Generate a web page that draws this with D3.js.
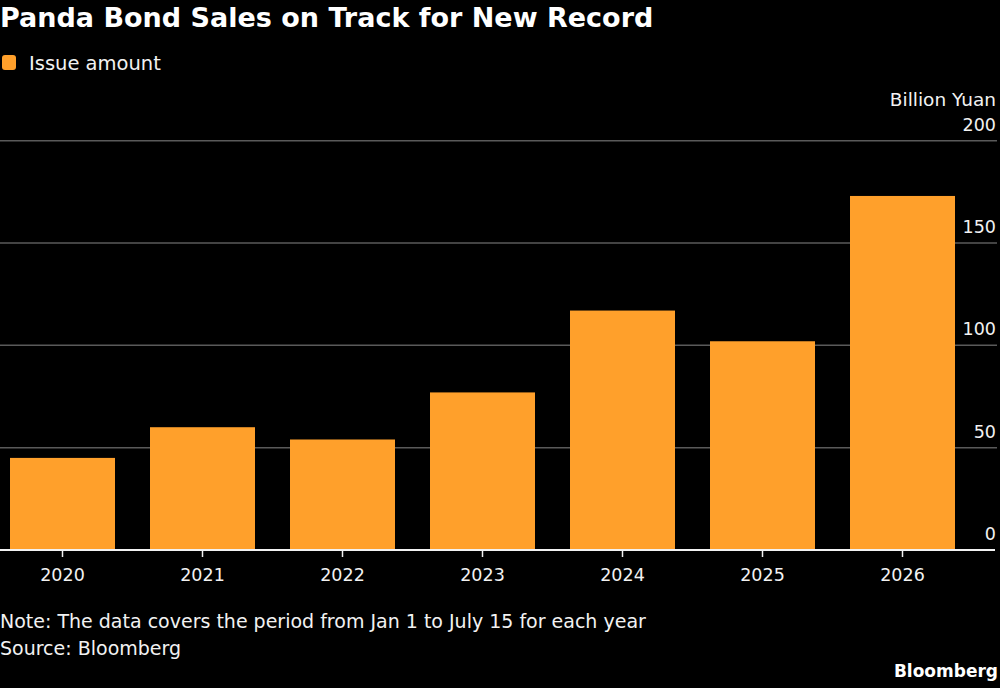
<!DOCTYPE html>
<html>
<head>
<meta charset="utf-8">
<script src="https://cdn.jsdelivr.net/npm/d3@7"></script>
<style>
  html, body { margin: 0; padding: 0; background: #000; }
  svg { display: block; }
  text { font-family: "DejaVu Sans", sans-serif; fill: #f2f2f2; }
</style>
</head>
<body>
<svg id="chart" width="1000" height="688"></svg>
<script>
"use strict";

// --- data ---
const years = ["2020", "2021", "2022", "2023", "2024", "2025", "2026"];
const issueAmount = [45, 60, 54, 77, 117, 102, 173];
const yTicks = [0, 50, 100, 150, 200];

const W = 1000, H = 688;
const L = { top: 140.7, bottom: 550, gridRight: 997, labelRight: 996 };
const BAR = "#ffa02b";
const NUM_SIZE = "17.5px";

const svg = d3.select("#chart");
svg.append("rect").attr("width", W).attr("height", H).attr("fill", "#000");

const x = d3.scaleBand().domain(years).range([0, 965])
    .paddingInner(0.25).paddingOuter(10 / 140);
const y = d3.scaleLinear().domain([0, 200]).range([L.bottom, L.top]);

// Title + legend
svg.append("text").attr("x", 0).attr("y", 27)
    .style("font-size", "27px").style("font-weight", "bold").style("fill", "#fff")
    .text("Panda Bond Sales on Track for New Record");

svg.append("rect").attr("x", 2).attr("y", 55).attr("width", 14).attr("height", 15)
    .attr("rx", 3).attr("fill", BAR);
svg.append("text").attr("x", 29).attr("y", 70).style("font-size", "19.5px").text("Issue amount");

// Gridlines
svg.append("g").selectAll("line").data(yTicks.filter(d => d > 0)).enter().append("line")
    .attr("x1", 0).attr("x2", L.gridRight)
    .attr("y1", d => y(d)).attr("y2", d => y(d))
    .attr("stroke", "#5a5a5a").attr("stroke-width", 1.5);

// Y tick labels (right aligned, sitting above the lines)
svg.append("g").selectAll("text").data(yTicks).enter().append("text")
    .attr("x", L.labelRight).attr("y", d => y(d) - 10)
    .attr("text-anchor", "end").style("font-size", NUM_SIZE)
    .text(d => d);

svg.append("text").attr("x", L.labelRight).attr("y", 106).attr("text-anchor", "end")
    .style("font-size", "18.5px").text("Billion Yuan");

// Bars
svg.append("g").selectAll("rect").data(years).enter().append("rect")
    .attr("x", d => x(d)).attr("width", x.bandwidth())
    .attr("y", (d, i) => y(issueAmount[i]))
    .attr("height", (d, i) => y(0) - y(issueAmount[i]))
    .attr("fill", BAR);

// X axis
const xAxis = svg.append("g").attr("transform", `translate(0,${y(0)})`)
    .call(d3.axisBottom(x).tickSize(7).tickPadding(12));
xAxis.select(".domain").remove();
xAxis.selectAll(".tick line").attr("stroke", "#f2f2f2").attr("stroke-width", 1.5);
xAxis.selectAll(".tick text").attr("fill", "#f2f2f2")
    .style("font-size", NUM_SIZE).style("font-family", "\"DejaVu Sans\", sans-serif");
svg.append("line").attr("x1", 0).attr("x2", 995).attr("y1", y(0)).attr("y2", y(0))
    .attr("stroke", "#f2f2f2").attr("stroke-width", 2);

// Footer
svg.append("text").attr("x", 0).attr("y", 628).style("font-size", "19px")
    .text("Note: The data covers the period from Jan 1 to July 15 for each year");
svg.append("text").attr("x", 0).attr("y", 655).style("font-size", "19px")
    .text("Source: Bloomberg");
svg.append("text").attr("x", 998).attr("y", 677).attr("text-anchor", "end")
    .style("font-size", "17px").style("font-weight", "bold").style("fill", "#fff")
    .text("Bloomberg");
</script>
</body>
</html>
